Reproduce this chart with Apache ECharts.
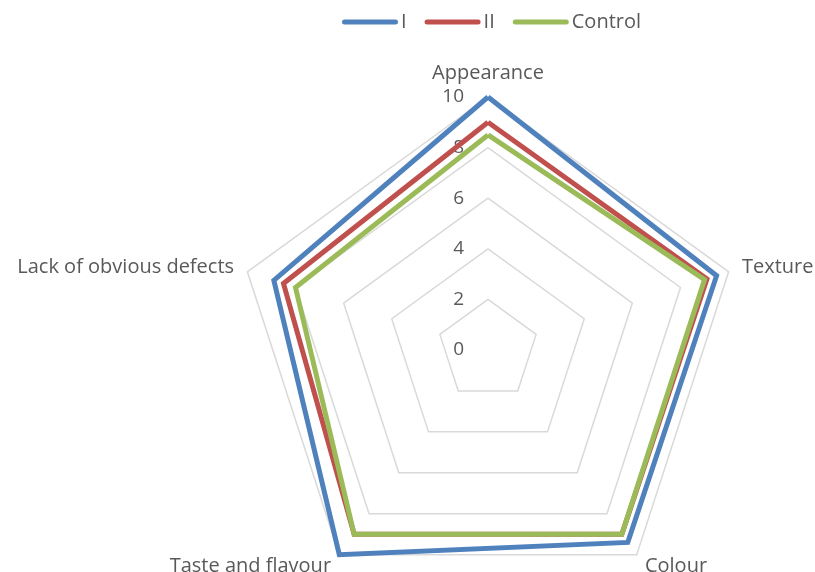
<!DOCTYPE html>
<html><head><meta charset="utf-8">
<script src="https://cdn.jsdelivr.net/npm/echarts@6/dist/echarts.min.js"></script>
<style>html,body{margin:0;padding:0;background:#fff}#c{width:815px;height:572px}</style>
</head><body><div id="c"></div>
<script>
const categories = ['Appearance', 'Texture', 'Colour', 'Taste and flavour', 'Lack of obvious defects'];
const seriesNames = ['I', 'II', 'Control'];
const valuesI = [10, 9.5, 9.4, 10, 8.9];
const valuesII = [9, 9.1, 9, 9, 8.5];
const valuesControl = [8.5, 9, 9, 9, 8];
const axisMax = 10;
const colors = ['#4F81BD', '#C0504D', '#9BBB59'];

const font = 'Open Sans';
// ECharts lays radar axes counter-clockwise; reorder so categories run clockwise
const order = [0, 4, 3, 2, 1];
const chart = echarts.init(document.getElementById('c'));
const indicator = order.map((k, i) => {
  const o = { name: categories[k], min: 0, max: axisMax };
  if (i === 0) o.axisLabel = { show: true };
  return o;
});
const data = [valuesI, valuesII, valuesControl];
chart.setOption({
  animation: false,
  color: colors,
  legend: {
    top: 7, left: 337, itemWidth: 56, itemHeight: 5, itemGap: 18,
    icon: 'path://M2.5,0 L53.5,0 A2.5,2.5 0 0 1 53.5,5 L2.5,5 A2.5,2.5 0 0 1 2.5,0 Z',
    textStyle: { fontFamily: font, fontSize: 20, color: '#595959', padding: [0, 0, 0, -2] },
    data: seriesNames
  },
  radar: {
    center: [488, 350], radius: 253, startAngle: 90, splitNumber: 5,
    indicator: indicator,
    axisName: { fontFamily: font, fontSize: 20, color: '#595959' },
    nameGap: 14,
    axisLine: { show: false },
    axisTick: { show: false },
    axisLabel: { show: false, fontFamily: font, fontSize: 19, color: '#595959', margin: 24 },
    splitLine: { lineStyle: { color: '#D9D9D9', width: 1.5 } },
    splitArea: { show: false }
  },
  series: [{
    type: 'radar',
    symbol: 'none',
    data: data.map((v, i) => ({
      name: seriesNames[i], value: order.map(k => v[k]),
      lineStyle: { color: colors[i], width: 5, join: 'miter' },
      itemStyle: { color: colors[i] }
    }))
  }]
});
</script></body></html>
